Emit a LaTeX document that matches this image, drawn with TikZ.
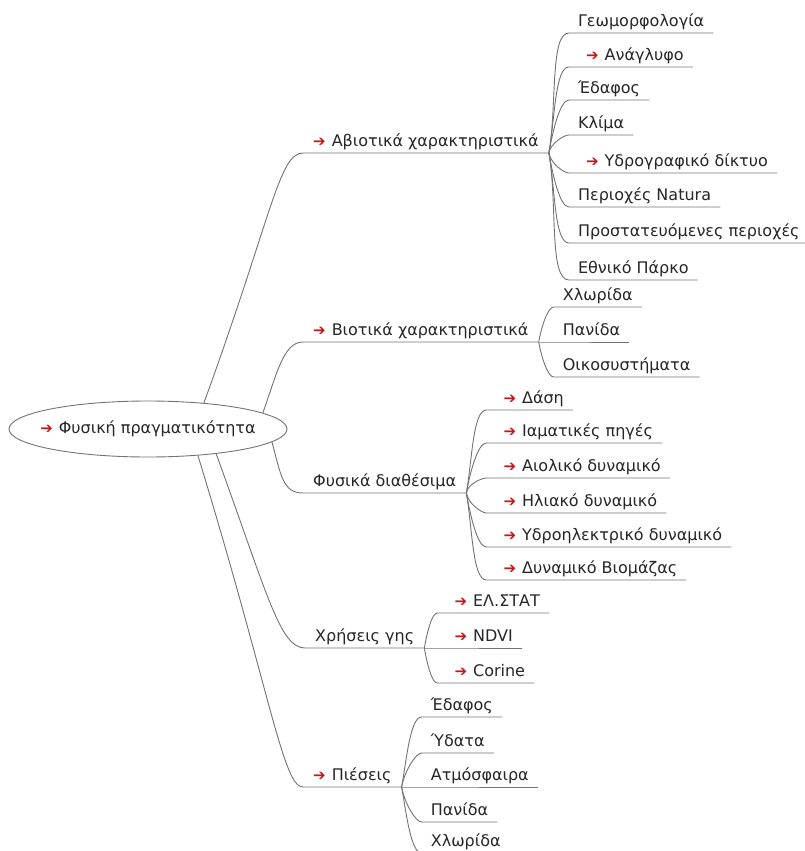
\documentclass[tikz,border=0pt]{standalone}
\usepackage{fontspec}
\setmainfont{DejaVu Sans}
\newfontfamily\symfont{DejaVu Sans}
\usetikzlibrary{shapes.geometric,calc}
\definecolor{arrowred}{RGB}{195,25,25}
\definecolor{branchgray}{RGB}{115,115,115}
\newcommand{\ra}{\textcolor{arrowred}{\symfont\fontsize{15}{18}\selectfont ➔}\hspace{6pt}}
\newcommand{\rra}{\hspace*{8pt}\ra}

\begin{document}
\begin{tikzpicture}[x=1pt, y=1pt]
\tikzset{topic/.style = {anchor=south west, inner xsep=10pt, inner ysep=2.5pt, text height=13pt, text depth=4pt, text=black!85, font=\fontsize{16}{19}\selectfont}}
\tikzset{sub/.style = {topic, inner xsep=9pt}}
\tikzset{branch/.style = {draw=branchgray, line width=0.9pt}}
\tikzset{rise/.style = {out=80, in=180, in looseness=0.4}}
\tikzset{fall/.style = {out=-80, in=180, in looseness=0.4}}
\useasboundingbox (0,0) rectangle (804,-851);

% root
\node[ellipse, draw=branchgray, line width=0.9pt, minimum width=278pt, minimum height=56pt] (root) at (148,-429) {};
\node[text=black!85, font=\fontsize{16}{19}\selectfont] (rootlabel) at (root) {\ra Φυσική πραγματικότητα};

% first level
\node[topic] (abio) at (303,-153) {\ra Αβιοτικά χαρακτηριστικά};
\node[topic] (bio) at (303,-342) {\ra Βιοτικά χαρακτηριστικά};
\node[topic] (res) at (303,-493) {Φυσικά διαθέσιμα};
\node[topic] (use) at (305,-648) {Χρήσεις γης};
\node[topic] (press) at (303,-787) {\ra Πιέσεις};
\coordinate (fabio) at (abio.south east);
\coordinate (fbio) at (bio.south east);
\coordinate (fres) at (res.south east);
\coordinate (fuse) at (use.south east);
\coordinate (fpress) at (press.south east);

\draw[branch] (root.25) .. controls +(70:200) and +(-24,0) .. (abio.south west) -- (fabio);
\draw[branch] (root.8) .. controls +(70:40) and +(-20,0) .. (bio.south west) -- (fbio);
\draw[branch] (root.-6) .. controls +(-75:35) and +(-20,0) .. (res.south west) -- (fres);
\draw[branch] (root.-20) .. controls +(-70:150) and +(-25,0) .. (use.south west) -- (fuse);
\draw[branch] (root.-28) .. controls +(-73:250) and +(-20,0) .. (press.south west) -- (fpress);

% abiotic
\node[sub] (geo) at ($(fabio |- 0,-33)+(20,0)$) {Γεωμορφολογία};
\node[sub] (relief) at ($(fabio |- 0,-67)+(20,0)$) {\rra Ανάγλυφο};
\node[sub] (soil) at ($(fabio |- 0,-100)+(20,0)$) {Έδαφος};
\node[sub] (clim) at ($(fabio |- 0,-135)+(20,0)$) {Κλίμα};
\node[sub] (hydro) at ($(fabio |- 0,-173)+(20,0)$) {\rra Υδρογραφικό δίκτυο};
\node[sub] (natura) at ($(fabio |- 0,-207)+(20,0)$) {Περιοχές Natura};
\node[sub] (prot) at ($(fabio |- 0,-243)+(20,0)$) {Προστατευόμενες περιοχές};
\node[sub] (park) at ($(fabio |- 0,-280)+(20,0)$) {Εθνικό Πάρκο};
\draw[branch] (fabio) to[rise] (geo.south west) -- (geo.south east);
\draw[branch] (fabio) to[rise] (relief.south west) -- (relief.south east);
\draw[branch] (fabio) to[rise] (soil.south west) -- (soil.south east);
\draw[branch] (fabio) to[rise] (clim.south west) -- (clim.south east);
\draw[branch] (fabio) to[fall] (hydro.south west) -- (hydro.south east);
\draw[branch] (fabio) to[fall] (natura.south west) -- (natura.south east);
\draw[branch] (fabio) to[fall] (prot.south west) -- (prot.south east);
\draw[branch] (fabio) to[fall] (park.south west) -- (park.south east);

% biotic
\node[sub] (flora) at ($(fbio |- 0,-307)+(15,0)$) {Χλωρίδα};
\node[sub] (fauna) at ($(fbio |- 0,-342)+(15,0)$) {Πανίδα};
\node[sub] (eco) at ($(fbio |- 0,-377)+(15,0)$) {Οικοσυστήματα};
\draw[branch] (fbio) to[rise] (flora.south west) -- (flora.south east);
\draw[branch] (fbio) -- (fauna.south west) -- (fauna.south east);
\draw[branch] (fbio) to[fall] (eco.south west) -- (eco.south east);

% resources
\node[sub] (forest) at ($(fres |- 0,-410)+(20,0)$) {\rra Δάση};
\node[sub] (springs) at ($(fres |- 0,-443)+(20,0)$) {\rra Ιαματικές πηγές};
\node[sub] (wind) at ($(fres |- 0,-478)+(20,0)$) {\rra Αιολικό δυναμικό};
\node[sub] (solar) at ($(fres |- 0,-513)+(20,0)$) {\rra Ηλιακό δυναμικό};
\node[sub] (hydel) at ($(fres |- 0,-547)+(20,0)$) {\rra Υδροηλεκτρικό δυναμικό};
\node[sub] (biomass) at ($(fres |- 0,-580)+(20,0)$) {\rra Δυναμικό Βιομάζας};
\draw[branch] (fres) to[rise] (forest.south west) -- (forest.south east);
\draw[branch] (fres) to[rise] (springs.south west) -- (springs.south east);
\draw[branch] (fres) to[rise] (wind.south west) -- (wind.south east);
\draw[branch] (fres) to[fall] (solar.south west) -- (solar.south east);
\draw[branch] (fres) to[fall] (hydel.south west) -- (hydel.south east);
\draw[branch] (fres) to[fall] (biomass.south west) -- (biomass.south east);

% land use
\node[sub] (elstat) at ($(fuse |- 0,-613)+(13,0)$) {\rra ΕΛ.ΣΤΑΤ};
\node[sub] (ndvi) at ($(fuse |- 0,-648)+(13,0)$) {\rra NDVI};
\node[sub] (corine) at ($(fuse |- 0,-683)+(13,0)$) {\rra Corine};
\draw[branch] (fuse) to[rise] (elstat.south west) -- (elstat.south east);
\draw[branch] (fuse) -- (ndvi.south west) -- (ndvi.south east);
\draw[branch] (fuse) to[fall] (corine.south west) -- (corine.south east);

% pressures
\node[sub] (psoil) at ($(fpress |- 0,-717)+(20,0)$) {Έδαφος};
\node[sub] (water) at ($(fpress |- 0,-753)+(20,0)$) {Ύδατα};
\node[sub] (air) at ($(fpress |- 0,-787)+(20,0)$) {Ατμόσφαιρα};
\node[sub] (pfauna) at ($(fpress |- 0,-822)+(20,0)$) {Πανίδα};
\node[sub] (pflora) at ($(fpress |- 0,-853)+(20,0)$) {Χλωρίδα};
\draw[branch] (fpress) to[rise] (psoil.south west) -- (psoil.south east);
\draw[branch] (fpress) to[rise] (water.south west) -- (water.south east);
\draw[branch] (fpress) -- (air.south west) -- (air.south east);
\draw[branch] (fpress) to[fall] (pfauna.south west) -- (pfauna.south east);
\draw[branch] (fpress) to[fall] (pflora.south west) -- (pflora.south east);
\end{tikzpicture}
\end{document}
